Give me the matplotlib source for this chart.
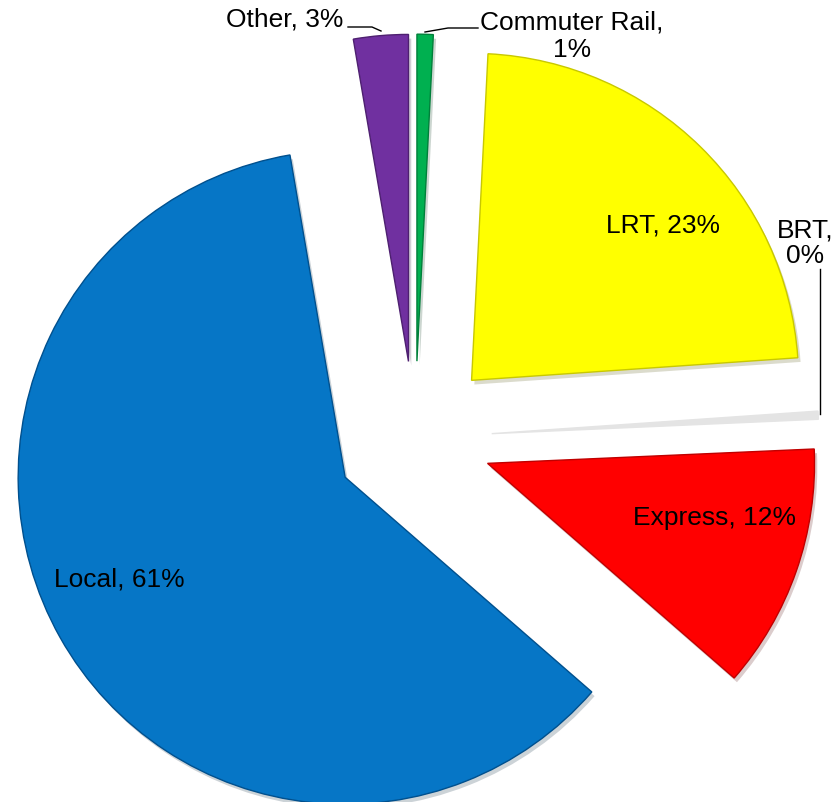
"""
Ridership share by mode -- exploded pie chart.
"""

import matplotlib
matplotlib.use("Agg")
import matplotlib.pyplot as plt
import matplotlib.patheffects as pe

# ------------------------------------------------------------------ #
# Data (shares in percent, clockwise from 12 o'clock)
# ------------------------------------------------------------------ #
modes = ["Commuter Rail", "LRT", "BRT", "Express", "Local", "Other"]
shares = [0.8, 23.1, 0.4, 12.1, 60.9, 2.7]
colors = ["#00B050", "#FFFF00", "#E4E4E4", "#FF0000", "#0676C6", "#7030A0"]
edges = ["#00803A", "#C8C800", "#E4E4E4", "#C00000", "#00508E", "#4E2070"]
explode = [0.235, 0.247, 0.235, 0.235, 0.245, 0.235]

W, H = 838, 803
fig = plt.figure(figsize=(W / 100, H / 100), dpi=100)
ax = fig.add_axes([0, 0, 1, 1])

# pie centre / radius in pixel terms, expressed in radius units
cx, cy, rad = 415, 439, 327
wedges, _ = ax.pie(
    shares,
    colors=colors,
    startangle=90,
    counterclock=False,
    explode=explode,
    radius=1.0,
    wedgeprops=dict(linewidth=1.0),
)
for w, ec, m in zip(wedges, edges, modes):
    w.set_edgecolor(ec)
    if m != "BRT":
        w.set_path_effects([pe.SimplePatchShadow(offset=(2, -3), alpha=0.2), pe.Normal()])

ax.set_xlim(-cx / rad, (W - cx) / rad)
ax.set_ylim(-(H - cy) / rad, cy / rad)
ax.set_aspect("auto")
ax.axis("off")


def fpos(x, y):
    return x / W, 1 - y / H


lbl = {m: f"{m}, {s:.0f}%" for m, s in zip(modes, shares)}
fs = 19
font = dict(family=["Liberation Sans", "DejaVu Sans"], fontsize=fs, color="black")

fig.text(*fpos(343, 20), lbl["Other"], ha="right", va="center", **font)
fig.text(*fpos(572, 36), "Commuter Rail,\n1%", ha="center", va="center",
         linespacing=1.2, **font)
fig.text(*fpos(663, 225), lbl["LRT"], ha="center", va="center", **font)
fig.text(*fpos(805, 243), "BRT,\n0%", ha="center", va="center",
         linespacing=1.1, **font)
fig.text(*fpos(714, 518), lbl["Express"], ha="center", va="center", **font)
fig.text(*fpos(119, 580), lbl["Local"], ha="center", va="center", **font)


# leader lines
def leader(xs, ys):
    fx = [x / W for x in xs]
    fy = [1 - y / H for y in ys]
    fig.add_artist(plt.Line2D(fx, fy, color="black", linewidth=1.0,
                              transform=fig.transFigure))


leader([348, 372, 381], [28, 28, 32])
leader([425, 448, 478], [33, 29, 29])
leader([820, 820], [270, 415])

fig.savefig("out.png", dpi=100)
